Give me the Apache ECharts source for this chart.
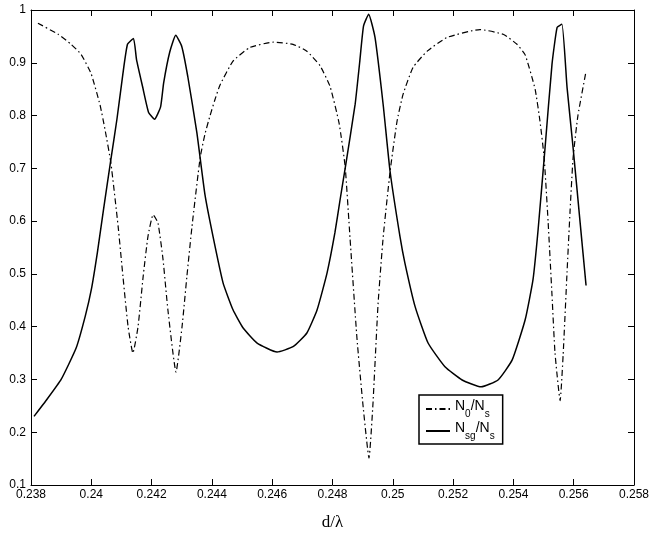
<!DOCTYPE html>
<html>
<head>
<meta charset="utf-8">
<script src="https://cdn.jsdelivr.net/npm/echarts@6/dist/echarts.min.js"></script>
<style>
html, body { margin: 0; padding: 0; background: #fff; }
#main { width: 664px; height: 539px; }
</style>
</head>
<body>
<div id="main"></div>
<script>
// d/lambda 取值 与 两条曲线
var xTicks = [0.238, 0.24, 0.242, 0.244, 0.246, 0.248, 0.25, 0.252, 0.254, 0.256, 0.258];
var yTicks = [0.1, 0.2, 0.3, 0.4, 0.5, 0.6, 0.7, 0.8, 0.9, 1];

// N0/Ns (点划线)
var n0X = [0.23823, 0.2389, 0.23933, 0.23966, 0.23999, 0.24029, 0.24045, 0.24065, 0.24089, 0.24105,
    0.24122, 0.24138, 0.24155, 0.24172, 0.24188, 0.24205, 0.24221, 0.24238, 0.24254, 0.24281,
    0.24301, 0.24317, 0.24334, 0.24361, 0.24377, 0.24394, 0.2441, 0.24427, 0.2447, 0.24526,
    0.24603, 0.24669, 0.24715, 0.24759, 0.24792, 0.24822, 0.24842, 0.24858, 0.24881, 0.24901,
    0.24921, 0.24934, 0.24951, 0.24968, 0.24991, 0.25014, 0.25034, 0.25067, 0.25114, 0.2518,
    0.25289, 0.25366, 0.25412, 0.25439, 0.25472, 0.25488, 0.25502, 0.25515, 0.25528, 0.25538,
    0.25555, 0.25565, 0.25578, 0.25588, 0.25598, 0.25614, 0.25641];
var n0Y = [0.975, 0.954, 0.935, 0.916, 0.88, 0.82, 0.775, 0.71, 0.59, 0.495,
    0.40, 0.35, 0.40, 0.495, 0.571, 0.612, 0.597, 0.527, 0.432, 0.314,
    0.40, 0.495, 0.59, 0.72, 0.765, 0.80, 0.83, 0.858, 0.903, 0.929,
    0.939, 0.935, 0.922, 0.894, 0.855, 0.785, 0.703, 0.569, 0.379, 0.252,
    0.151, 0.252, 0.442, 0.569, 0.694, 0.789, 0.84, 0.891, 0.922, 0.948,
    0.963, 0.954, 0.935, 0.915, 0.85, 0.79, 0.72, 0.60, 0.46, 0.35,
    0.26, 0.347, 0.504, 0.62, 0.72, 0.80, 0.884];

// Nsg/Ns (实线)
var nsgX = [0.2381, 0.2385, 0.239, 0.2395, 0.2398, 0.24, 0.2402, 0.2404, 0.24065, 0.24085,
    0.24105, 0.2412, 0.2414, 0.2415, 0.2417, 0.2419, 0.2421, 0.2423, 0.2424, 0.2426,
    0.2428, 0.2430, 0.2432, 0.2435, 0.24377, 0.24404, 0.24437, 0.2447, 0.24503, 0.2455,
    0.24616, 0.24669, 0.24715, 0.24749, 0.24782, 0.24808, 0.24825, 0.24842, 0.24875, 0.2489,
    0.24903, 0.2492, 0.24941, 0.24968, 0.24991, 0.25024, 0.2504, 0.25074, 0.25117, 0.25173,
    0.2523, 0.25293, 0.25349, 0.25396, 0.25439, 0.25465, 0.25482, 0.25505, 0.25528, 0.25545,
    0.25561, 0.25578, 0.25598, 0.25621, 0.25641];
var nsgY = [0.23, 0.26, 0.30, 0.36, 0.42, 0.47, 0.54, 0.62, 0.717, 0.793,
    0.88, 0.935, 0.946, 0.906, 0.855, 0.806, 0.793, 0.817, 0.862, 0.92,
    0.952, 0.931, 0.874, 0.768, 0.65, 0.57, 0.483, 0.432, 0.398, 0.369,
    0.352, 0.362, 0.388, 0.432, 0.502, 0.578, 0.64, 0.70, 0.821, 0.90,
    0.97, 0.992, 0.948, 0.821, 0.694, 0.57, 0.521, 0.438, 0.369, 0.324,
    0.299, 0.286, 0.299, 0.337, 0.413, 0.489, 0.584, 0.739, 0.897, 0.967,
    0.973, 0.853, 0.739, 0.599, 0.478];

function pairs(xs, ys) {
    var out = [];
    for (var i = 0; i < xs.length; i++) {
        out.push([xs[i], ys[i]]);
    }
    return out;
}

function fmt(v) {
    return String(parseFloat(v.toFixed(4)));
}

initChart();

function initChart() {
    var myChart = echarts.init(document.getElementById('main'));
    var sans = 'Liberation Sans, Arial, sans-serif';

    var tickCommon = {
        axisLine: { show: true, lineStyle: { color: '#000', width: 1 } },
        axisTick: { show: true, inside: true, length: 6, lineStyle: { color: '#000', width: 1 } },
        splitLine: { show: false }
    };

    var option = {
        animation: false,
        backgroundColor: '#fff',
        grid: { left: 31, right: 30, top: 10, bottom: 54 },
        legend: {
            orient: 'vertical',
            left: 419,
            top: 395,
            padding: [4, 8, 3, 6],
            itemGap: 2,
            itemWidth: 24,
            itemHeight: 14,
            borderColor: '#000',
            borderWidth: 1.5,
            backgroundColor: '#fff',
            itemStyle: { opacity: 0 },
            data: ['N0/Ns', 'Nsg/Ns'],
            formatter: function (name) {
                if (name === 'N0/Ns') {
                    return '{n|N}{s|0}{n|/N}{s|s}';
                }
                return '{n|N}{s|sg}{n|/N}{s|s}';
            },
            textStyle: {
                color: '#000',
                fontFamily: sans,
                rich: {
                    n: { fontSize: 14, fontFamily: sans, color: '#000', lineHeight: 20, verticalAlign: 'top', padding: [0, 0, 4, 0] },
                    s: { fontSize: 10, fontFamily: sans, color: '#000', lineHeight: 20, verticalAlign: 'bottom' }
                }
            }
        },
        xAxis: [
            Object.assign({
                type: 'value',
                min: xTicks[0],
                max: xTicks[xTicks.length - 1],
                interval: 0.002,
                name: 'd/λ',
                nameLocation: 'middle',
                nameGap: 29,
                nameTextStyle: { fontFamily: 'Liberation Serif, Times New Roman, serif', fontSize: 17, color: '#000' },
                axisLabel: { color: '#000', fontFamily: sans, fontSize: 12, margin: 4, formatter: fmt }
            }, tickCommon),
            Object.assign({
                type: 'value',
                position: 'top',
                min: xTicks[0],
                max: xTicks[xTicks.length - 1],
                interval: 0.002,
                axisLabel: { show: false }
            }, tickCommon)
        ],
        yAxis: [
            Object.assign({
                type: 'value',
                min: yTicks[0],
                max: yTicks[yTicks.length - 1],
                interval: 0.1,
                axisLabel: { color: '#000', fontFamily: sans, fontSize: 12, margin: 5, formatter: fmt }
            }, tickCommon),
            Object.assign({
                type: 'value',
                position: 'right',
                min: yTicks[0],
                max: yTicks[yTicks.length - 1],
                interval: 0.1,
                axisLabel: { show: false }
            }, tickCommon)
        ],
        series: [
            {
                name: 'N0/Ns',
                type: 'line',
                showSymbol: false,
                symbol: 'none',
                smooth: 0.15,
                data: pairs(n0X, n0Y),
                lineStyle: { color: '#000', width: 1.2, type: [6, 3, 1.5, 3] },
                itemStyle: { color: '#000' }
            },
            {
                name: 'Nsg/Ns',
                type: 'line',
                showSymbol: false,
                symbol: 'none',
                smooth: 0.15,
                data: pairs(nsgX, nsgY),
                lineStyle: { color: '#000', width: 1.5, type: 'solid' },
                itemStyle: { color: '#000' }
            }
        ]
    };
    myChart.setOption(option);
}
</script>
</body>
</html>
